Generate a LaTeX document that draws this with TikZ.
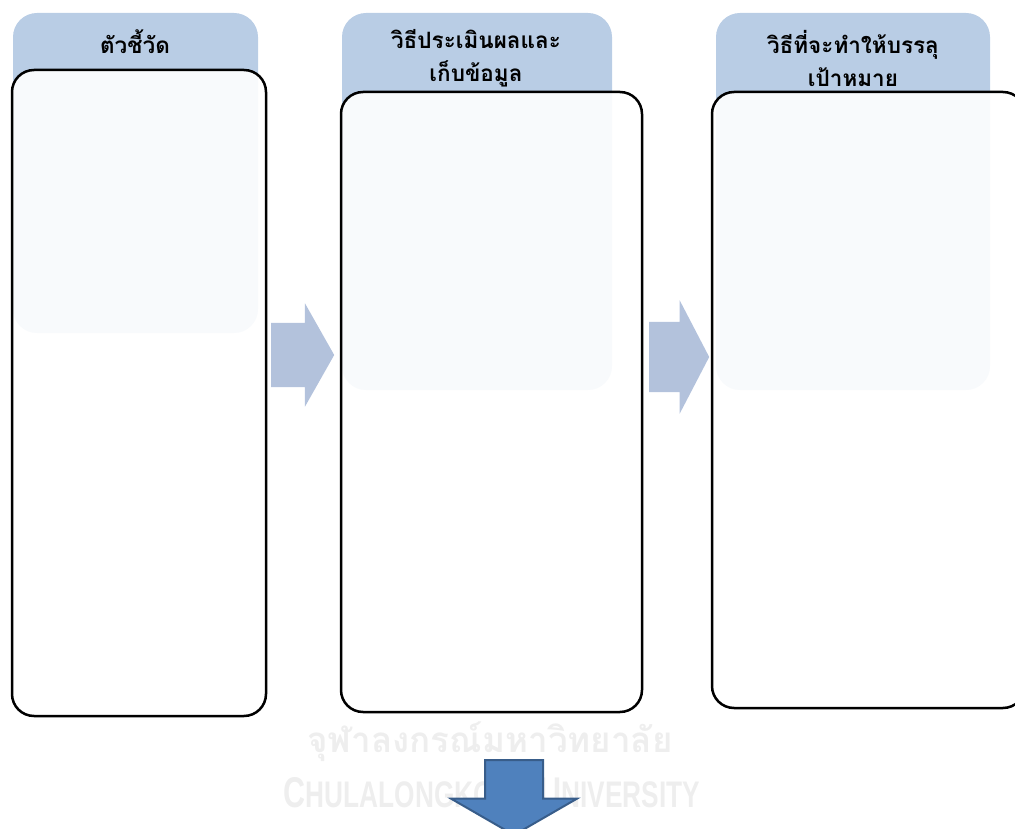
\documentclass[tikz,border=0pt]{standalone}
\usepackage{fontspec}
\usepackage{graphicx}
\newfontfamily\thaifont[Script=Thai]{Loma}
\setsansfont{Liberation Sans}
\usetikzlibrary{shapes.arrows, positioning}
\definecolor{tabblue}{HTML}{B9CDE5}
\definecolor{arrowblue}{HTML}{B3C2DC}
\definecolor{downfill}{HTML}{4F81BD}
\definecolor{downdraw}{HTML}{385D8A}
\definecolor{wmgray}{HTML}{EEEEEE}

\begin{document}
\begin{tikzpicture}[x=1pt, y=-1pt,
  tab/.style={rectangle, rounded corners=24pt, fill=tabblue, inner sep=0pt},
  panel/.style={rectangle, rounded corners=22pt, draw=black, line width=2.5pt,
    fill=white, fill opacity=0.9, inner sep=0pt},
  head/.style={font=\thaifont\bfseries\fontsize{22.5}{33}\selectfont,
    align=center, text=black, inner sep=0pt},
  flow/.style={single arrow, fill=arrowblue, inner xsep=0pt, anchor=tail},
  stagedown/.style={single arrow, fill=downfill, draw=downdraw, line width=2pt,
    inner xsep=0pt, rotate=-90, anchor=tail},
  wmark/.style={text=wmgray, inner sep=0pt},
]
\clip (0,0) rectangle (1015,829);
% ====== WATERMARK ======
\node[wmark, font=\thaifont\bfseries\fontsize{35}{35}\selectfont] (wm_th) at (490,742)
  {จุฬาลงกรณ์มหาวิทยาลัย};
\node[wmark, font=\sffamily\bfseries] (wm_en) at (492,793)
  {\scalebox{0.71}[1]{\fontsize{43}{43}\selectfont C\fontsize{37}{37}\selectfont HULALONGKORN
   \fontsize{43}{43}\selectfont U\fontsize{37}{37}\selectfont NIVERSITY}};
%
% ====== HEADER TABS ======
\node[tab, minimum width=245pt, minimum height=320pt] (tab_a) at (135.5,173) {};
\node[tab, minimum width=270pt, minimum height=377pt] (tab_b) at (477,201.5) {};
\node[tab, minimum width=274pt, minimum height=377pt] (tab_c) at (853,201.5) {};
\node[head] (head_a) at (135,42) {ตัวชี้วัด};
\node[head] (head_b) at (476,58.5) {วิธีประเมินผลและ\\เก็บข้อมูล};
\node[head] (head_c) at (853,58.5) {วิธีที่จะทำให้บรรลุ\\เป้าหมาย};
%
% ====== PANELS ======
\node[panel, minimum width=254pt, minimum height=646pt] (box_a) at (139,393) {};
\node[panel, minimum width=301pt, minimum height=620pt] (box_b) at (491.5,402) {};
\node[panel, minimum width=313pt, minimum height=616pt] (box_c) at (868.5,400) {};
%
% ====== STAGE ARROWS ======
\node[flow, inner ysep=32pt, single arrow head extend=19.5pt,
  single arrow tip angle=121, minimum height=63pt] (go_ab) at (271,355) {};
\node[flow, inner ysep=35pt, single arrow head extend=21.5pt,
  single arrow tip angle=125, minimum height=60pt] (go_bc) at (649,357) {};
\node[stagedown, inner ysep=28pt, single arrow head extend=34pt,
  single arrow tip angle=120, minimum height=75pt] (go_down) at (514,759) {};
\end{tikzpicture}
\end{document}
